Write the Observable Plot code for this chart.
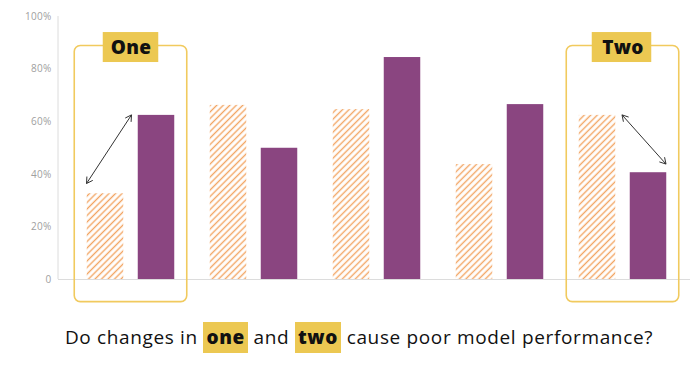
<!DOCTYPE html>
<html>
<head>
<meta charset="utf-8">
<script src="https://cdn.jsdelivr.net/npm/d3@7"></script>
<script src="https://cdn.jsdelivr.net/npm/@observablehq/plot@0.6"></script>
<style>
  html, body { margin: 0; padding: 0; background: #fff; }
  #wrap { position: relative; width: 700px; height: 373px; }
  #caption {
    position: absolute; left: 0; top: 322px; width: 718px; text-align: center;
    font-family: "Open Sans", sans-serif; font-size: 19px; line-height: 31px; color: #111;
    white-space: nowrap; letter-spacing: 0.65px;
  }
  #caption .hl {
    display: inline-block; background: #ECC852; font-weight: 800; padding: 0 3px; line-height: 31px;
  }
</style>
</head>
<body>
<div id="wrap">
  <div id="chart"></div>
  <div id="caption">Do changes in <span class="hl">one</span> and <span class="hl">two</span> cause poor model performance?</div>
</div>
<script>
// ---- data ----
const groups = ["g1", "g2", "g3", "g4", "g5"];
const beforeValues = [32.6, 66.2, 64.6, 43.7, 62.4];   // hatched bars (%)
const afterValues = [62.4, 49.9, 84.4, 66.5, 40.6];    // purple bars (%)
const yTicks = [0, 20, 40, 60, 80, 100];
const highlightGroups = ["g1", "g5"];
const highlightLabels = ["One", "Two"];
const arrowFrom = [36.3, 62.4];
const arrowTo = [62.4, 43.7];

const data = groups.map((g, i) => ({group: g, before: beforeValues[i], after: afterValues[i]}));
const boxes = highlightGroups.map((g, i) => ({group: g, label: highlightLabels[i]}));
const arrows = highlightGroups.map((g, i) => ({group: g, from: arrowFrom[i], to: arrowTo[i], side: i === 0 ? "left" : "right"}));

const purple = "#8A4580";
const hatchColor = "#F2A563";
const gold = "#ECC852";
const goldLine = "#F1CA5E";

// pattern definition
const hatchDefs = () => {
  const defs = d3.create("svg:defs");
  const p = defs.append("pattern")
    .attr("id", "hatch").attr("patternUnits", "userSpaceOnUse")
    .attr("width", 4.6).attr("height", 4.6).attr("patternTransform", "rotate(45)");
  p.append("line").attr("x1", 2.3).attr("x2", 2.3).attr("y1", 0).attr("y2", 4.6)
    .attr("stroke", hatchColor).attr("stroke-width", 1.4);
  return defs.node();
};

// y axis line + double-headed arrows, positioned with the plot's scales
const extras = (index, scales, values, dims) => {
  const {x, y} = scales;
  const bw = x.bandwidth ? x.bandwidth() : (x(groups[1]) - x(groups[0]));
  const g = d3.create("svg:g");
  g.append("line")
    .attr("x1", dims.marginLeft).attr("x2", dims.marginLeft)
    .attr("y1", y(100)).attr("y2", y(0))
    .attr("stroke", "#dcdcdc").attr("stroke-width", 1);
  const ag = g.append("g").attr("stroke", "#333").attr("fill", "none").attr("stroke-width", 1);
  for (const a of arrows) {
    const c = x(a.group) + bw / 2;
    const [x1, x2] = a.side === "left" ? [c - 44, c + 1] : [c - 0.5, c + 43.5];
    const y1 = y(a.from), y2 = y(a.to);
    ag.append("line").attr("x1", x1).attr("y1", y1).attr("x2", x2).attr("y2", y2);
    const ang = Math.atan2(y2 - y1, x2 - x1);
    const head = (px, py, dir) => {
      const L = 7, w = Math.PI / 6;
      const pts = [dir + Math.PI - w, dir + Math.PI + w].map(t => [px + L * Math.cos(t), py + L * Math.sin(t)]);
      ag.append("path").attr("d", `M${pts[0]}L${px},${py}L${pts[1]}`);
    };
    head(x2, y2, ang);
    head(x1, y1, ang + Math.PI);
  }
  return g.node();
};

const chart = Plot.plot({
  width: 700,
  height: 310,
  marginLeft: 58,
  marginRight: 10,
  marginTop: 16,
  marginBottom: 31,
  style: {fontFamily: "'Open Sans', sans-serif", fontSize: "10px", color: "#a0a0a0", background: "#fff", letterSpacing: "0.3px"},
  x: {type: "band", domain: groups, padding: 0, insetLeft: 10, insetRight: 4.25, axis: null},
  y: {domain: [0, 100], ticks: yTicks, tickSize: 0, tickPadding: 7, tickFormat: d => d === 0 ? "0" : d + "%", label: null},
  marks: [
    hatchDefs,
    Plot.ruleY([0], {stroke: "#dcdcdc", strokeWidth: 1}),
    Plot.barY(boxes, {x: "group", y1: -8.6, y2: 88.8, fill: "none", stroke: goldLine, strokeWidth: 1.6, rx: 6, insetLeft: 5.25, insetRight: 5.25}),
    Plot.barY(data, {x: "group", y: "before", fill: "url(#hatch)", insetLeft: 17.75, insetRight: 68.75}),
    Plot.barY(data, {x: "group", y: "after", fill: purple, insetLeft: 68.75, insetRight: 17.75}),
    Plot.barY(boxes.slice(0, 1), {x: "group", y1: 82.5, y2: 93.9, fill: gold, insetLeft: 33.75, insetRight: 33.75}),
    Plot.barY(boxes.slice(1, 2), {x: "group", y1: 82.5, y2: 93.9, fill: gold, insetLeft: 30.75, insetRight: 32.75}),
    Plot.text(boxes, {x: "group", y: 88.2, text: "label", fontSize: 19, fontWeight: 800, fill: "#111", fontFamily: "'Open Sans', sans-serif"}),
    extras
  ]
});
document.getElementById("chart").appendChild(chart);
</script>
</body>
</html>
